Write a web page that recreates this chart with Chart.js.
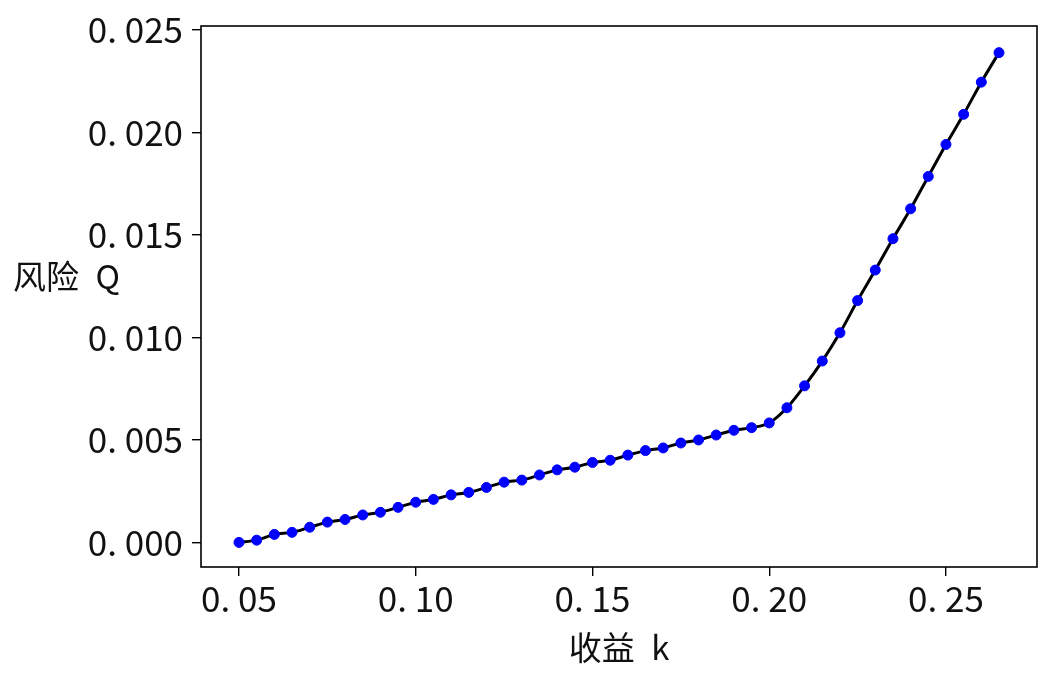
<!DOCTYPE html>
<html>
<head>
<meta charset="utf-8">
<script src="https://cdn.jsdelivr.net/npm/chart.js@4"></script>
<style>
  html, body { margin: 0; padding: 0; background: #fff; }
  #wrap { width: 1052px; height: 684px; }
</style>
</head>
<body>
<div id="wrap"><canvas id="c" width="1052" height="684"></canvas></div>
<script>
// return k (x) and risk Q (y)
const kValues = [
  0.050, 0.055, 0.060, 0.065, 0.070, 0.075, 0.080, 0.085, 0.090, 0.095,
  0.100, 0.105, 0.110, 0.115, 0.120, 0.125, 0.130, 0.135, 0.140, 0.145,
  0.150, 0.155, 0.160, 0.165, 0.170, 0.175, 0.180, 0.185, 0.190, 0.195,
  0.200, 0.205, 0.210, 0.215, 0.220, 0.225, 0.230, 0.235, 0.240, 0.245,
  0.250, 0.255, 0.260, 0.265
];
const qValues = [
  0.00000, 0.00011, 0.00039, 0.00049, 0.00074, 0.00099, 0.00112, 0.00134, 0.00147, 0.00171,
  0.00196, 0.00210, 0.00232, 0.00244, 0.00268, 0.00294, 0.00304, 0.00329, 0.00354, 0.00367,
  0.00390, 0.00401, 0.00426, 0.00448, 0.00461, 0.00485, 0.00500, 0.00524, 0.00547, 0.00560,
  0.00583, 0.00657, 0.00764, 0.00885, 0.01023, 0.01180, 0.01329, 0.01482, 0.01628, 0.01786,
  0.01942, 0.02089, 0.02246, 0.02390
];
const xTicks = [0.05, 0.10, 0.15, 0.20, 0.25];
const yTicks = [0.000, 0.005, 0.010, 0.015, 0.020, 0.025];

const FONT = "'Noto Sans CJK SC', 'Noto Sans', sans-serif";
const points = kValues.map((k, i) => ({ x: k, y: qValues[i] }));

// frame round the plot area plus the horizontal y title
const framePlugin = {
  id: 'frame',
  afterDraw(chart) {
    const { ctx, chartArea: a } = chart;
    ctx.save();
    ctx.strokeStyle = '#000';
    ctx.lineWidth = 1.6;
    ctx.strokeRect(a.left, a.top, a.right - a.left, a.bottom - a.top);
    ctx.fillStyle = '#111';
    ctx.font = '33px ' + FONT;
    ctx.textAlign = 'left';
    ctx.textBaseline = 'middle';
    ctx.fillText('风险\u2002Q', 13, 276);
    ctx.restore();
  }
};

const fmt = (v, d) => v.toFixed(d).replace('.', '. ');

new Chart(document.getElementById('c').getContext('2d'), {
  type: 'line',
  data: {
    datasets: [
      {
        label: 'fit',
        data: points,
        borderColor: '#000',
        borderWidth: 3,
        pointRadius: 0,
        cubicInterpolationMode: 'monotone',
        order: 2,
      },
      {
        label: 'Q',
        type: 'scatter',
        data: points,
        backgroundColor: '#0000ff',
        borderColor: '#0000ff',
        pointRadius: 5,
        order: 1,
      },
    ],
  },
  options: {
    responsive: false,
    animation: false,
    layout: { padding: { top: 26, right: 15, left: 0, bottom: 17 } },
    plugins: { legend: { display: false }, tooltip: { enabled: false } },
    scales: {
      x: {
        type: 'linear',
        min: 0.03925,
        max: 0.27575,
        afterBuildTicks: (s) => { s.ticks = xTicks.map(v => ({ value: v })); },
        afterFit: (s) => { s.height = 100; s.paddingLeft = 0; s.paddingRight = 0; },
        grid: { drawOnChartArea: false, color: '#000', tickLength: 9, lineWidth: 1.4 },
        border: { display: false },
        ticks: {
          color: '#111',
          font: { family: FONT, size: 35 },
          padding: 2,
          maxRotation: 0,
          callback: (v) => fmt(v, 2),
        },
        title: {
          display: true,
          text: '收益\u2002k',
          color: '#111',
          font: { family: FONT, size: 33 },
          padding: { top: 0, bottom: 0 },
        },
      },
      y: {
        type: 'linear',
        min: -0.0012,
        max: 0.0252,
        afterBuildTicks: (s) => { s.ticks = yTicks.map(v => ({ value: v })); },
        afterFit: (s) => { s.width = 201; s.paddingTop = 0; s.paddingBottom = 0; },
        grid: { drawOnChartArea: false, color: '#000', tickLength: 9, lineWidth: 1.4 },
        border: { display: false },
        ticks: {
          color: '#111',
          font: { family: FONT, size: 35 },
          padding: 9,
          callback: (v) => fmt(v, 3),
        },
      },
    },
  },
  plugins: [framePlugin],
});
</script>
</body>
</html>
